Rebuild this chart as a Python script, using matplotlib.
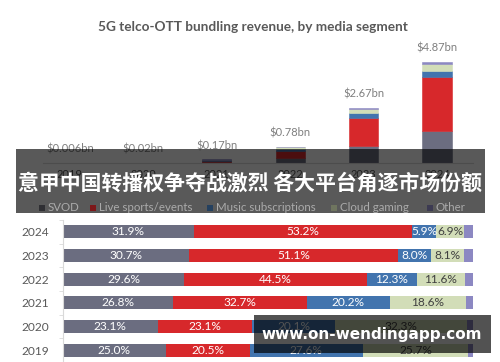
import matplotlib
matplotlib.use('Agg')
import matplotlib.pyplot as plt
from matplotlib.patches import Rectangle
import numpy as np

# ---------------- data ----------------
years = ['2019', '2020', '2021', '2022', '2023', '2024']
totals = [0.006, 0.02, 0.17, 0.78, 2.67, 4.87]
total_labels = ['$0.006bn', '$0.02bn', '$0.17bn', '$0.78bn', '$2.67bn', '$4.87bn']
segments = ['SVOD', 'Live sports/events', 'Music subscriptions', 'Cloud gaming', 'Other']
svod = [25.0, 23.1, 26.8, 29.6, 30.7, 31.9]
live = [20.5, 23.1, 32.7, 44.5, 51.1, 53.2]
music = [27.6, 20.1, 20.2, 12.3, 8.0, 5.9]
cloud = [25.7, 32.3, 18.6, 11.6, 8.1, 6.9]
other = [1.2, 1.4, 1.7, 2.0, 2.1, 2.1]
title = '5G telco-OTT bundling revenue, by media segment'
banner_text = '意甲中国转播权争夺战激烈 各大平台角逐市场份额'
watermark = 'www.on-wendingapp.com'

colors = ['#6b6d80', '#d7282b', '#4274ae', '#d2ddb8', '#8c88c2']
legend_sq = ['#2f2f33', '#7d1719', '#24405f', '#6f755f', '#3c3a52']
label_colors = ['white', 'white', 'white', '#404040', None]

W, H = 500, 362
fig = plt.figure(figsize=(W / 100, H / 100), dpi=100)
fig.patch.set_facecolor('white')
LAT = 'Lato'


def add_ax(left, top, right, bottom):
    return fig.add_axes([left / W, 1 - bottom / H, (right - left) / W, (bottom - top) / H])


def fx(x):
    return x / W


def fy(y):
    return 1 - y / H


shares = [svod, live, music, cloud, other]

# ---------------- top chart ----------------
ax1 = add_ax(43, 40, 473, 163)
px_per_bn = 101 / 4.87
unit = 73.4
ax1.set_xlim(-(70 - 43) / unit, (473 - 70) / unit)
ax1.set_ylim(0, 123 / px_per_bn)
x = np.arange(len(years))
bottom = np.zeros(len(years))
for s, c in zip(shares, colors):
    vals = np.array(totals) * np.array(s) / 100
    ax1.bar(x, vals, bottom=bottom, width=0.4, color=c, edgecolor=c, linewidth=0.4)
    bottom += vals
for xi, t, lab in zip(x, totals, total_labels):
    ax1.annotate(lab, (xi, t), xytext=(0, 6), textcoords='offset points',
                 ha='center', va='bottom', fontsize=8, color='#7f7f7f', family=LAT)
for sp in ['top', 'right', 'left']:
    ax1.spines[sp].set_visible(False)
ax1.spines['bottom'].set_color('#d9d9d9')
ax1.set_yticks([])
ax1.set_xticks(x)
ax1.set_xticklabels(years, fontsize=8, color='#595959', family=LAT)
ax1.tick_params(axis='x', length=0, pad=4)

fig.text(fx(253), fy(27), title, ha='center', va='center', fontsize=9.8,
         fontweight='bold', color='#595959', family=LAT)

# ---------------- bottom chart ----------------
ax2 = add_ax(63, 220, 473, 362)
ax2.set_xlim(0, 100)
ax2.set_ylim(-10 / 24, 5.5)
y = np.arange(len(years))
left = np.zeros(len(years))
for s, c, lc in zip(shares, colors, label_colors):
    s = np.array(s)
    ax2.barh(y, s, left=left, height=0.54, color=c, linewidth=0)
    if lc is not None:
        for yi, l, v in zip(y, left, s):
            ax2.text(l + v / 2, yi, f'{v:.1f}%', ha='center', va='center',
                     fontsize=8.6, color=lc, family=LAT)
    left += s
for sp in ['top', 'right', 'bottom']:
    ax2.spines[sp].set_visible(False)
ax2.spines['left'].set_color('#d9d9d9')
ax2.set_xticks([])
ax2.set_yticks(y)
ax2.set_yticklabels(years, fontsize=8.6, color='#595959', family=LAT)
ax2.set_yticks(np.arange(-0.5, 6, 1), minor=True)
ax2.tick_params(axis='y', which='major', length=0, pad=10)
ax2.tick_params(axis='y', which='minor', length=3, color='#d9d9d9')

# ---------------- banner overlay ----------------
fig.add_artist(Rectangle((fx(16), fy(213)), (485 - 16) / W, (213 - 149) / H,
                         transform=fig.transFigure, facecolor='black', alpha=0.65,
                         linewidth=0, zorder=10))
fig.text(fx(250), fy(183), banner_text, ha='center', va='center', fontsize=15,
         fontweight='bold', color='white', family=['Noto Sans CJK SC', 'DejaVu Sans'],
         zorder=12)
leg_x = [39, 90, 207, 331, 427]
for lx, name, sc in zip(leg_x, segments, legend_sq):
    fig.add_artist(Rectangle((fx(lx), fy(210.5)), 6 / W, 6 / H, transform=fig.transFigure,
                             facecolor=sc, linewidth=0, zorder=12))
    fig.text(fx(lx + 9), fy(207.5), name, ha='left', va='center', fontsize=8.3,
             color='#ababab', family=LAT, zorder=12)

# ---------------- watermark ----------------
fig.add_artist(Rectangle((fx(254), fy(353)), (491 - 254) / W, (353 - 315) / H,
                         transform=fig.transFigure, facecolor='black', alpha=0.68,
                         linewidth=0, zorder=10))
fig.text(fx(372), fy(334), watermark, ha='center', va='center', fontsize=11,
         fontweight='bold', color='white', family='DejaVu Sans', zorder=12)

fig.savefig('out.png', dpi=100)
